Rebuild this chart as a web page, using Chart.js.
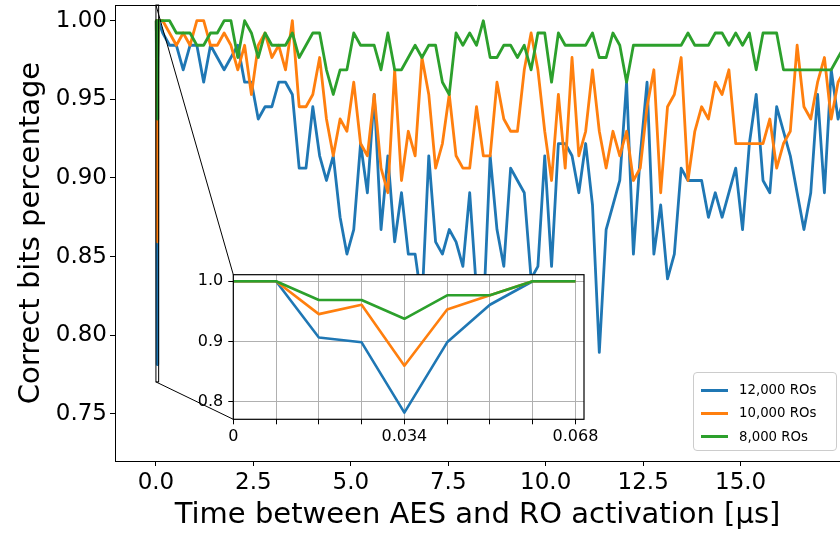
<!DOCTYPE html>
<html>
<head>
<meta charset="utf-8">
<script src="https://cdn.jsdelivr.net/npm/chart.js@4"></script>
<style>
html, body { margin:0; padding:0; background:#fff; overflow:hidden; }
#wrap { position:relative; width:840px; height:536px; }
#main { position:absolute; left:0; top:0; }
#inset { position:absolute; left:180px; top:262px; }
#legend { position:absolute; left:693px; top:372px; width:142px; height:77px; border:1px solid #cccccc; border-radius:4px; background:rgba(255,255,255,0.8); font-family:'DejaVu Sans', sans-serif; font-size:13.3px; color:#000; }
#legend .row { position:absolute; left:0; height:20px; width:100%; }
#legend .h { position:absolute; left:7px; top:8.5px; width:27px; height:3px; }
#legend .t { position:absolute; left:45px; top:1px; line-height:18px; white-space:nowrap; }
</style>
</head>
<body>
<div id="wrap">
<canvas id="main" width="840" height="536"></canvas>
<canvas id="inset" width="420" height="200"></canvas>
<div id="legend"></div>
</div>
<script>
// ---------- data ----------
const seriesNames = ['12,000 ROs', '10,000 ROs', '8,000 ROs'];
const seriesColors = ['#1f77b4', '#ff7f0e', '#2ca02c'];

// fine sweep (shown in the inset), time in microseconds
const insetTimes = [0, 0.0085, 0.017, 0.0255, 0.034, 0.0425, 0.051, 0.0595, 0.068];
const insetRO12k = [1.0, 1.0, 0.9063, 0.8984, 0.7813, 0.8984, 0.9609, 1.0, 1.0];
const insetRO10k = [1.0, 1.0, 0.9453, 0.9609, 0.8594, 0.9531, 0.9766, 1.0, 1.0];
const insetRO8k  = [1.0, 1.0, 0.9688, 0.9688, 0.9375, 0.9766, 0.9766, 1.0, 1.0];

// coarse sweep, time in microseconds
const sweepTimes = [0.175,0.35,0.525,0.7,0.875,1.05,1.225,1.4,1.575,1.75,
  1.925,2.1,2.275,2.45,2.625,2.8,2.975,3.15,3.325,3.5,
  3.675,3.85,4.025,4.2,4.375,4.55,4.725,4.9,5.075,5.25,
  5.425,5.6,5.775,5.95,6.125,6.3,6.475,6.65,6.825,7.0,
  7.175,7.35,7.525,7.7,7.875,8.05,8.225,8.4,8.575,8.75,
  8.925,9.1,9.275,9.45,9.625,9.8,9.975,10.15,10.325,10.5,
  10.675,10.85,11.025,11.2,11.375,11.55,11.725,11.9,12.075,12.25,
  12.425,12.6,12.775,12.95,13.125,13.3,13.475,13.65,13.825,14.0,
  14.175,14.35,14.525,14.7,14.875,15.05,15.225,15.4,15.575,15.75,
  15.925,16.1,16.275,16.45,16.625,16.8,16.975,17.15,17.325,17.5,
  17.675];
const sweepRO12k = [0.9922,0.9844,0.9844,0.9688,0.9844,0.9844,0.9609,0.9844,0.9766,0.9688,
  0.9766,0.9844,0.9609,0.9609,0.9375,0.9453,0.9453,0.9609,0.9609,0.9531,
  0.9063,0.9063,0.9453,0.9141,0.8984,0.9141,0.875,0.8516,0.8672,0.9219,
  0.8906,0.9531,0.8672,0.9141,0.8594,0.8906,0.8516,0.8516,0.8203,0.9141,
  0.8594,0.8516,0.8672,0.8594,0.8438,0.8906,0.8281,0.8125,0.9141,0.8672,
  0.8438,0.9063,0.8984,0.8906,0.8359,0.8438,0.9141,0.8438,0.9219,0.9219,
  0.9141,0.8906,0.9219,0.8828,0.7891,0.8672,0.8828,0.8984,0.9609,0.8516,
  0.9141,0.9609,0.8516,0.8828,0.8359,0.8516,0.9063,0.8984,0.8984,0.8984,
  0.875,0.8906,0.875,0.8906,0.9063,0.8672,0.9219,0.9531,0.8984,0.8906,
  0.9453,0.9297,0.9141,0.8906,0.8672,0.8906,0.9531,0.8906,0.9688,0.9375,
  0.9531];
const sweepRO10k = [1.0,0.9922,0.9844,0.9922,0.9844,1.0,1.0,0.9844,0.9844,0.9922,
  0.9844,0.9688,0.9844,0.9531,0.9844,0.9922,0.9766,0.9844,0.9688,1.0,
  0.9453,0.9453,0.9531,0.9766,0.9375,0.9141,0.9375,0.9297,0.9609,0.9219,
  0.9141,0.9531,0.9063,0.8906,0.9688,0.8984,0.9297,0.9141,0.9766,0.9531,
  0.9063,0.9219,0.9531,0.9141,0.9063,0.9063,0.9453,0.9141,0.9141,0.9609,
  0.9375,0.9297,0.9297,0.9688,0.9922,0.9688,0.9297,0.8984,0.9531,0.9063,
  0.9766,0.9141,0.9297,0.9688,0.9297,0.9063,0.9297,0.9141,0.9297,0.8984,
  0.9063,0.9453,0.9688,0.8906,0.9453,0.9531,0.9766,0.8984,0.9297,0.9453,
  0.9375,0.9609,0.9531,0.9688,0.9219,0.9219,0.9219,0.9219,0.9219,0.9375,
  0.9063,0.9219,0.9297,0.9844,0.9453,0.9375,0.9609,0.9766,0.9375,0.9609,
  0.9688];
const sweepRO8k = [1.0,1.0,0.9922,0.9922,0.9922,0.9844,0.9844,0.9922,0.9922,1.0,
  1.0,0.9766,1.0,0.9922,0.9766,0.9922,0.9844,0.9844,0.9844,0.9922,
  0.9766,0.9844,0.9922,0.9922,0.9688,0.9531,0.9688,0.9688,0.9922,0.9844,
  0.9844,0.9844,0.9688,0.9922,0.9688,0.9688,0.9766,0.9844,0.9766,0.9844,
  0.9844,0.9609,0.9531,0.9922,0.9844,0.9922,0.9844,1.0,0.9766,0.9766,
  0.9844,0.9844,0.9766,0.9844,0.9688,0.9922,0.9922,0.9609,0.9922,0.9844,
  0.9844,0.9844,0.9844,0.9922,0.9766,0.9766,0.9922,0.9844,0.9609,0.9844,
  0.9844,0.9844,0.9844,0.9844,0.9844,0.9844,0.9844,0.9922,0.9844,0.9844,
  0.9844,0.9922,0.9922,0.9844,0.9922,0.9844,0.9922,0.9688,0.9922,0.9922,
  0.9922,0.9688,0.9688,0.9688,0.9688,0.9688,0.9688,0.9688,0.9688,0.9766,
  0.9844];

// ticks
const mainXTicks = [0, 2.5, 5, 7.5, 10, 12.5, 15];
const mainYTicks = [0.75, 0.8, 0.85, 0.9, 0.95, 1.0];
const insetYTicks = [0.8, 0.9, 1.0];
const insetXLabels = ['0', '', '', '', '0.034', '', '', '', '0.068'];

const xTitle = 'Time between AES and RO activation [\u03bcs]';
const yTitle = 'Correct bits percentage';

// ---------- helpers ----------
Chart.defaults.font.family = "'DejaVu Sans', sans-serif";
Chart.defaults.color = '#000';

function pts(xs, ys) { return xs.map((x, i) => ({ x: x, y: ys[i] })); }

const insetSeries = [insetRO12k, insetRO10k, insetRO8k];
const sweepSeries = [sweepRO12k, sweepRO10k, sweepRO8k];
const allTimes = insetTimes.concat(sweepTimes);

const INSET_X = [0, 0.0697];
const INSET_Y = [0.7703, 1.0109];
const INSET_OFFSET = { left: 180, top: 262 };

// ---------- inset chart ----------
const insetChart = new Chart(document.getElementById('inset'), {
  type: 'line',
  data: {
    datasets: insetSeries.map((s, i) => ({
      label: seriesNames[i], data: pts(insetTimes, s),
      borderColor: seriesColors[i], backgroundColor: seriesColors[i],
      order: 3 - i
    }))
  },
  options: {
    responsive: false, animation: false, devicePixelRatio: 1,
    layout: { padding: { left: 0, top: 12.7, right: 16, bottom: 0 } },
    elements: { point: { radius: 0 }, line: { borderWidth: 2.6, tension: 0, borderJoinStyle: 'round' } },
    plugins: { legend: { display: false }, tooltip: { enabled: false } },
    scales: {
      x: {
        type: 'linear', min: INSET_X[0], max: INSET_X[1],
        afterBuildTicks: s => { s.ticks = insetTimes.map(v => ({ value: v })); },
        afterFit: s => { s.height = 42.7; s.paddingLeft = 0; s.paddingRight = 0; },
        ticks: { autoSkip: false, maxRotation: 0, font: { size: 16 }, padding: 3,
                 callback: (v, i) => insetXLabels[i] },
        grid: { color: '#b0b0b0', lineWidth: 1, tickColor: '#000', tickLength: 5 },
        border: { display: false }
      },
      y: {
        min: INSET_Y[0], max: INSET_Y[1],
        afterBuildTicks: s => { s.ticks = insetYTicks.map(v => ({ value: v })); },
        afterFit: s => { s.width = 53.3; s.paddingTop = 0; s.paddingBottom = 0; },
        ticks: { font: { size: 16 }, padding: 5, callback: v => v.toFixed(1) },
        grid: { color: '#b0b0b0', lineWidth: 1, tickColor: '#000', tickLength: 5 },
        border: { display: false }
      }
    }
  },
  plugins: [{
    id: 'insetFrame',
    beforeDraw(c) {
      const a = c.chartArea, ctx = c.ctx;
      ctx.save(); ctx.fillStyle = '#fff';
      ctx.fillRect(a.left, a.top, a.right - a.left, a.bottom - a.top);
      ctx.restore();
    },
    afterDraw(c) {
      const a = c.chartArea, ctx = c.ctx;
      ctx.save(); ctx.strokeStyle = '#000'; ctx.lineWidth = 1.2;
      ctx.strokeRect(a.left, a.top, a.right - a.left, a.bottom - a.top);
      ctx.restore();
    }
  }]
});

// ---------- main chart ----------
new Chart(document.getElementById('main'), {
  type: 'line',
  data: {
    datasets: sweepSeries.map((s, i) => ({
      label: seriesNames[i], data: pts(allTimes, insetSeries[i].concat(s)),
      borderColor: seriesColors[i], backgroundColor: seriesColors[i],
      order: 3 - i
    }))
  },
  options: {
    responsive: false, animation: false, devicePixelRatio: 1,
    layout: { padding: { left: 0, top: 5, right: 0, bottom: 0 } },
    elements: { point: { radius: 0 }, line: { borderWidth: 2.8, tension: 0, borderJoinStyle: 'round' } },
    plugins: { legend: { display: false }, tooltip: { enabled: false } },
    scales: {
      x: {
        type: 'linear', min: -1.05, max: 17.55,
        afterBuildTicks: s => { s.ticks = mainXTicks.map(v => ({ value: v })); },
        afterFit: s => { s.height = 75; s.paddingLeft = 0; s.paddingRight = 0; },
        ticks: { autoSkip: false, maxRotation: 0, font: { size: 23 }, padding: 3,
                 callback: v => v.toFixed(1) },
        grid: { drawOnChartArea: false, color: '#000', tickLength: 5, lineWidth: 1 },
        border: { display: true, color: '#000', width: 1 },
        title: { display: true, text: xTitle, font: { size: 29 }, padding: { top: 0, bottom: 3.6 } }
      },
      y: {
        min: 0.72, max: 1.01,
        afterBuildTicks: s => { s.ticks = mainYTicks.map(v => ({ value: v })); },
        afterFit: s => { s.width = 115; s.paddingTop = 0; s.paddingBottom = 0; },
        ticks: { font: { size: 23 }, padding: 3, callback: v => v.toFixed(2) },
        grid: { drawOnChartArea: false, color: '#000', tickLength: 5, lineWidth: 1 },
        border: { display: true, color: '#000', width: 1 },
        title: { display: true, text: yTitle, font: { size: 29 }, padding: { top: 13.6, bottom: 0 } }
      }
    }
  },
  plugins: [{
    id: 'spinesAndZoomMark',
    afterDatasetsDraw(c) {
      const { ctx, chartArea: a, scales: { x, y } } = c;
      ctx.save();
      ctx.strokeStyle = '#000'; ctx.lineWidth = 1;
      ctx.beginPath(); ctx.moveTo(a.left, a.top + 0.5); ctx.lineTo(a.right, a.top + 0.5); ctx.stroke();
      const rx0 = x.getPixelForValue(INSET_X[0]), rx1 = x.getPixelForValue(INSET_X[1]);
      const ry0 = Math.max(y.getPixelForValue(INSET_Y[1]), a.top), ry1 = y.getPixelForValue(INSET_Y[0]);
      ctx.strokeRect(rx0, ry0, rx1 - rx0, ry1 - ry0);
      const ia = insetChart.chartArea;
      ctx.beginPath();
      ctx.moveTo(rx0, ry0); ctx.lineTo(INSET_OFFSET.left + ia.left, INSET_OFFSET.top + ia.top);
      ctx.moveTo(rx0, ry1); ctx.lineTo(INSET_OFFSET.left + ia.left, INSET_OFFSET.top + ia.bottom);
      ctx.stroke();
      ctx.restore();
    }
  }]
});

// ---------- legend ----------
const legend = document.getElementById('legend');
seriesNames.forEach((name, i) => {
  const row = document.createElement('div');
  row.className = 'row';
  row.style.top = (7 + i * 23.3) + 'px';
  const h = document.createElement('span'); h.className = 'h'; h.style.background = seriesColors[i];
  const t = document.createElement('span'); t.className = 't'; t.textContent = name;
  row.appendChild(h); row.appendChild(t); legend.appendChild(row);
});
</script>
</body>
</html>
